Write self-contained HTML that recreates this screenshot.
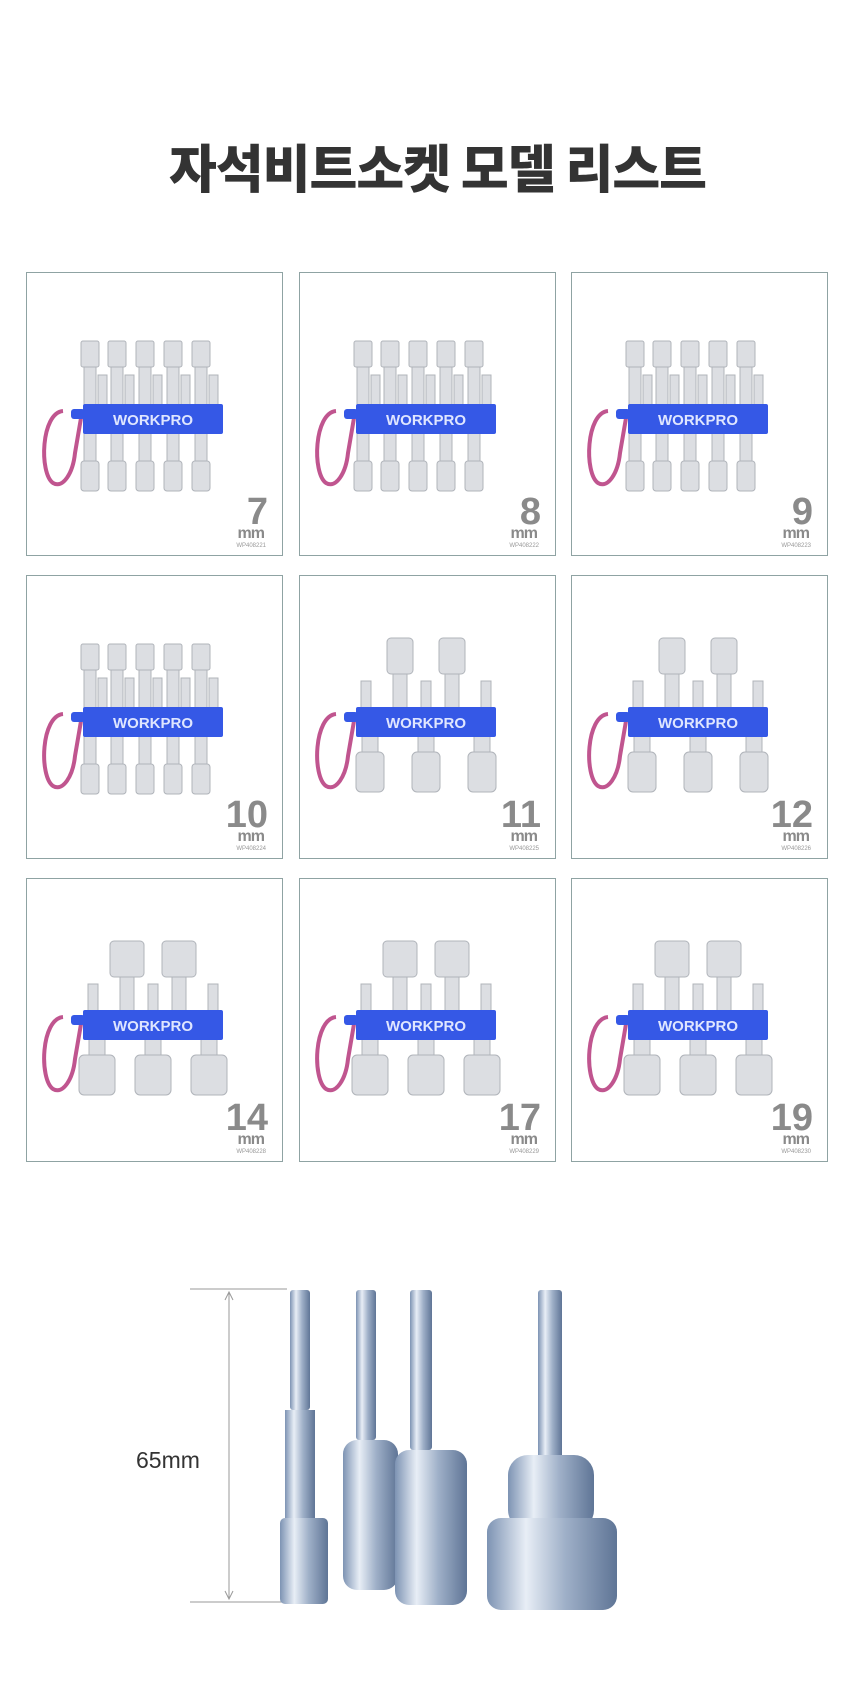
<!DOCTYPE html>
<html><head><meta charset="utf-8">
<style>
body{margin:0;width:851px;height:1704px;background:#fff;position:relative;overflow:hidden;font-family:"Liberation Sans","Noto Sans CJK KR",sans-serif;}
h1{position:absolute;top:128px;left:12px;width:851px;text-align:center;margin:0;font-size:52px;font-weight:900;color:#333;letter-spacing:-1px;font-family:"Noto Sans CJK KR",sans-serif;}
.box{position:absolute;width:255px;height:282px;border:1.5px solid #8fa3a3;background:#fff;}
.num{position:absolute;right:14px;top:220px;font-size:38px;font-weight:bold;color:#8a8a8a;line-height:38px;text-align:right;}
.mm{position:absolute;right:18px;top:254px;font-size:16px;font-weight:bold;color:#8a8a8a;line-height:14px;letter-spacing:-1px;}
.wp{position:absolute;right:16px;top:270px;font-size:6px;color:#999;}
svg{position:absolute;left:0;top:0;}
</style></head><body>
<h1>자석비트소켓 모델 리스트</h1>
<div id="grid"></div>
<svg width="851" height="1704" style="pointer-events:none" id="bottom">
<defs>
<linearGradient id="mg" x1="0" x2="1"><stop offset="0" stop-color="#7d93b3"/><stop offset=".3" stop-color="#e8eef6"/><stop offset=".6" stop-color="#9fb0c8"/><stop offset="1" stop-color="#5f7596"/></linearGradient>
</defs>
<line x1="190" y1="1289" x2="287" y2="1289" stroke="#999" stroke-width="1"/>
<line x1="190" y1="1602" x2="287" y2="1602" stroke="#999" stroke-width="1"/>
<line x1="229" y1="1292" x2="229" y2="1599" stroke="#999" stroke-width="1"/>
<path d="M225 1300 L229 1292 L233 1300" fill="none" stroke="#999"/>
<path d="M225 1591 L229 1599 L233 1591" fill="none" stroke="#999"/>
<text x="136" y="1468" font-size="23" fill="#333" font-family="Liberation Sans">65mm</text>
<rect x="290" y="1290" width="20" height="120" rx="3" fill="url(#mg)"/>
<rect x="285" y="1410" width="30" height="108" fill="url(#mg)"/>
<rect x="280" y="1518" width="48" height="86" rx="5" fill="url(#mg)"/>
<rect x="356" y="1290" width="20" height="150" rx="3" fill="url(#mg)"/>
<rect x="343" y="1440" width="55" height="150" rx="14" fill="url(#mg)"/>
<rect x="410" y="1290" width="22" height="160" rx="3" fill="url(#mg)"/>
<rect x="395" y="1450" width="72" height="155" rx="14" fill="url(#mg)"/>
<rect x="538" y="1290" width="24" height="170" rx="3" fill="url(#mg)"/>
<rect x="508" y="1455" width="86" height="75" rx="20" fill="url(#mg)"/>
<rect x="487" y="1518" width="130" height="92" rx="14" fill="url(#mg)"/>
</svg>
<script>
var labels=[["7","WP408221"],["8","WP408222"],["9","WP408223"],["10","WP408224"],["11","WP408225"],["12","WP408226"],["14","WP408228"],["17","WP408229"],["19","WP408230"]];
var xs=[26,299,571],ys=[272,575,878];
var html="";
for(var i=0;i<9;i++){
 var x=xs[i%3],y=ys[Math.floor(i/3)];
 var s='<svg width="255" height="282">';
 var g='fill="#dcdee2" stroke="#b0b4ba" stroke-width="1"';
 if(i<4){
  var cx=[63,90,118,146,174];
  for(var k=0;k<5;k++){
   s+='<rect x="'+(cx[k]-9)+'" y="68" width="18" height="26" rx="2" '+g+'/>';
   s+='<rect x="'+(cx[k]-6)+'" y="94" width="12" height="40" '+g+'/>';
   s+='<rect x="'+(cx[k]+8)+'" y="102" width="9" height="30" '+g+'/>';
   s+='<rect x="'+(cx[k]-6)+'" y="160" width="12" height="30" '+g+'/>';
   s+='<rect x="'+(cx[k]-9)+'" y="188" width="18" height="30" rx="3" '+g+'/>';
  }
 } else {
  var big=i>=6?34:26;
  [100,152].forEach(function(c){
   s+='<rect x="'+(c-big/2)+'" y="62" width="'+big+'" height="36" rx="4" '+g+'/>';
   s+='<rect x="'+(c-7)+'" y="98" width="14" height="36" '+g+'/>';
  });
  [66,126,186].forEach(function(c){s+='<rect x="'+(c-5)+'" y="105" width="10" height="28" '+g+'/>';});
  [70,126,182].forEach(function(c){
   s+='<rect x="'+(c-8)+'" y="160" width="16" height="20" '+g+'/>';
   s+='<rect x="'+(c-big/2-1)+'" y="176" width="'+(big+2)+'" height="40" rx="5" '+g+'/>';
  });
 }
 s+='<path d="M36 138 C14 140 12 200 26 210 C36 216 46 200 48 180 L54 145" fill="none" stroke="#c0558f" stroke-width="4"/>';
 s+='<rect x="56" y="131" width="140" height="30" rx="2" fill="#3558e6"/>';
 s+='<rect x="44" y="136" width="14" height="10" rx="3" fill="#3558e6"/>';
 s+='<text x="126" y="152" text-anchor="middle" font-size="15" font-weight="bold" fill="#dfe6ff" font-family="Liberation Sans">WORKPRO</text>';
 s+='</svg>';
 html+='<div class="box" style="left:'+x+'px;top:'+y+'px">'+s+'<div class="num">'+labels[i][0]+'</div><div class="mm">mm</div><div class="wp">'+labels[i][1]+'</div></div>';
}
document.getElementById("grid").innerHTML=html;
</script>
</body></html>
